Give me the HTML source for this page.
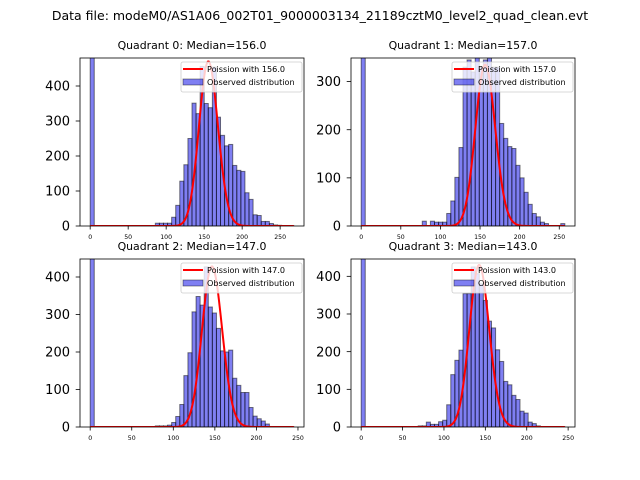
<!DOCTYPE html>
<html><head><meta charset="utf-8"><style>
body{margin:0;background:#fff;}
svg{display:block;font-family:"DejaVu Sans","Liberation Sans",sans-serif;}
</style></head><body>
<svg id="fig" width="640" height="480" viewBox="0 0 640 480" xmlns="http://www.w3.org/2000/svg">
<rect width="640" height="480" fill="#fff"/>
<text x="320" y="20" font-size="12.5" text-anchor="middle">Data file: modeM0/AS1A06_002T01_9000003134_21189cztM0_level2_quad_clean.evt</text>
</svg>
<script>
const medians = [156.0, 157.0, 147.0, 143.0];
const dataMax = [268, 257, 245, 246];
const yMax = [480, 349, 448, 446];
const yTicks0 = [0,100,200,300,400];
const yTicks1 = [0,100,200,300];
const xTicks = [0,50,100,150,200,250];
const curvePeak = [470, 335, 428, 430];
const counts0 = [2000,0,0,0,0,0,0,0,0,0,0,0,0,0,0,0,8,8,8,8,25,59,128,175,250,351,321,456,350,338,454,311,259,229,233,173,159,156,95,76,32,30,13,13,7,3,2,1,1,1];
const counts1 = [2000,0,0,0,0,0,0,0,0,0,0,0,0,0,0,10,0,10,8,8,8,26,52,101,163,330,345,320,350,330,345,350,330,330,213,182,165,161,126,100,70,45,26,19,8,5,1,1,1,5];
const counts2 = [2000,0,0,0,0,0,0,0,0,0,0,0,0,0,0,0,3,3,3,5,12,28,60,137,198,307,348,325,427,320,304,263,203,200,205,130,111,92,92,52,29,22,16,8,0,0,0,0,0,1];
const counts3 = [2000,0,0,0,0,0,0,0,0,0,0,0,0,0,3,3,13,7,7,14,18,59,139,177,204,354,354,425,407,380,336,281,263,205,174,121,112,84,73,42,37,13,9,3,0,0,0,0,0,1];
const allCounts = [counts0, counts1, counts2, counts3];
const yTickSets = [yTicks0, yTicks1, yTicks0, yTicks0];

const NS = "http://www.w3.org/2000/svg";
const svg = document.getElementById('fig');
function mk(tag, attrs, parent){const e=document.createElementNS(NS,tag);for(const k in attrs)e.setAttribute(k,attrs[k]);(parent||svg).appendChild(e);return e;}
const boxes = [[80,58,224,168],[351,58,224,168],[80,259,224,168],[351,259,224,168]];
function lgam(n){
  if(n<2) return 0;
  return n*Math.log(n)-n+0.5*Math.log(2*Math.PI*n)+1/(12*n)-1/(360*n*n*n);
}
for(let q=0;q<4;q++){
  const [L,T,W,H]=boxes[q];
  const mx=dataMax[q], span=mx*1.1, x0=-mx*0.05;
  const xs=v=>L+(v-x0)/span*W;
  const ys=v=>T+H-v/yMax[q]*H;
  const g=mk('g',{});
  
  
  const clip=mk('clipPath',{id:'c'+q},g);
  mk('rect',{x:L,y:T,width:W,height:H},clip);
  const bars=mk('g',{'clip-path':'url(#c'+q+')'},g);
  const c=allCounts[q], bw=mx/c.length;
  c.forEach((v,i)=>{
    if(v<=0) return;
    const r=mk('rect',{x:xs(i*bw),y:ys(v),width:xs((i+1)*bw)-xs(i*bw),height:ys(0)-ys(v),fill:'rgba(0,0,230,0.5)',stroke:'rgba(0,0,0,0.5)','stroke-width':1},bars);
    
    
  });
  const lam=medians[q];
  const peak=Math.exp(Math.floor(lam)*Math.log(lam)-lam-lgam(Math.floor(lam)));
  let d='';
  for(let k=0;k<=mx;k++){
    const p=Math.exp(k*Math.log(lam||1)-lam-lgam(k));
    d+=(k?'L':'M')+xs(k).toFixed(2)+','+ys(p/peak*curvePeak[q]).toFixed(2);
  }
  const cur=mk('path',{d:d,fill:'none',stroke:'red','stroke-width':2},bars);
  
  
  mk('rect',{x:L,y:T,width:W,height:H,fill:'none',stroke:'#000','stroke-width':0.8},g);
  xTicks.forEach(t=>{
    if(t>mx*1.05) return;
    mk('line',{x1:xs(t),x2:xs(t),y1:T+H,y2:T+H+3.5,stroke:'#000','stroke-width':0.8},g);
    const tx=mk('text',{x:xs(t),y:T+H+13,'font-size':6.2,'text-anchor':'middle'},g);tx.textContent=t;
    
    
  });
  yTickSets[q].forEach(t=>{
    mk('line',{x1:L,x2:L-4.3,y1:ys(t),y2:ys(t),stroke:'#000','stroke-width':0.8},g);
    const tx=mk('text',{x:L-10,y:ys(t)+4.6,'font-size':13,'text-anchor':'end'},g);tx.textContent=t;
    
    
  });
  const ti=mk('text',{x:L+W/2,y:T-9,'font-size':10.9,'text-anchor':'middle'},g);
  ti.textContent='Quadrant '+q+': Median='+lam.toFixed(1);
  
  
  const lg=mk('g',{},g);
  
  
  const lx=L+W-123, ly=T+4;
  mk('rect',{x:lx,y:ly,width:121,height:30,rx:2,fill:'rgba(255,255,255,0.8)',stroke:'#ccc','stroke-width':0.8},lg);
  mk('line',{x1:lx+2,x2:lx+22,y1:ly+7,y2:ly+7,stroke:'red','stroke-width':2},lg);
  mk('rect',{x:lx+2,y:ly+17,width:20,height:6,fill:'rgba(0,0,230,0.5)',stroke:'rgba(0,0,0,0.5)','stroke-width':0.8},lg);
  const t1=mk('text',{x:lx+26,y:ly+10,'font-size':8.1},lg);t1.textContent='Poission with '+lam.toFixed(1);
  const t2=mk('text',{x:lx+26,y:ly+23,'font-size':8.1},lg);t2.textContent='Observed distribution';
}
</script>
</body></html>
